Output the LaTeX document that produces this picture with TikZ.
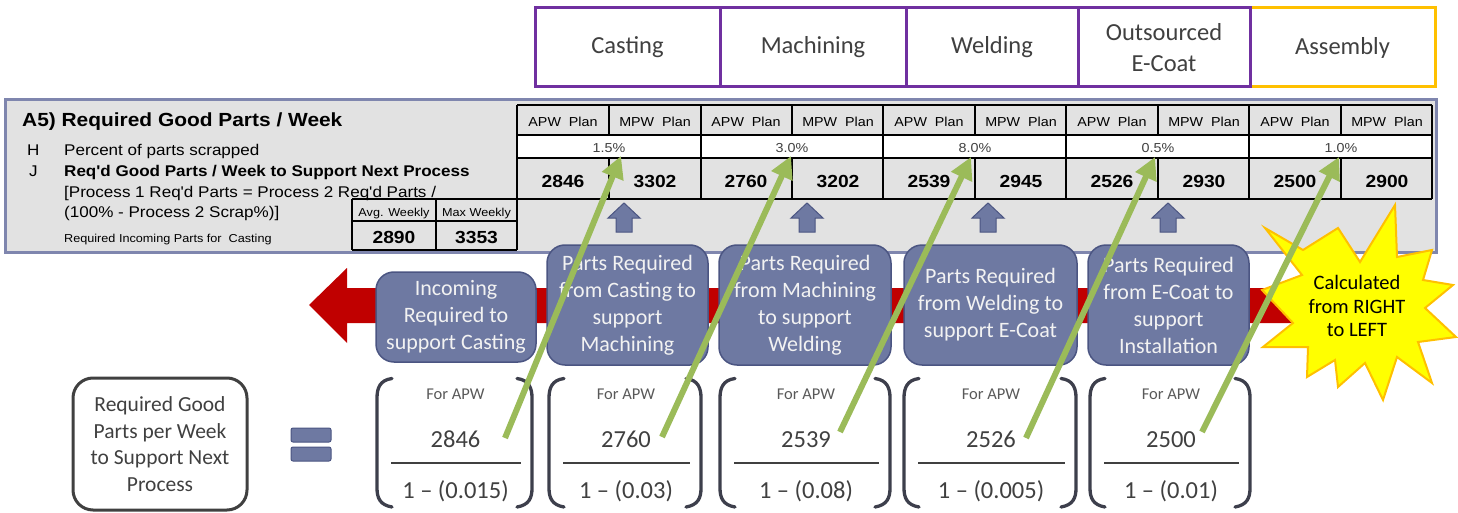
\documentclass[tikz,border=0pt]{standalone}
\usepackage{fontspec}
\setmainfont{Carlito}
\newfontfamily\arialf[FakeStretch=1.1]{Liberation Sans}
\usetikzlibrary{arrows.meta}
\definecolor{purp}{HTML}{7030A0}
\definecolor{gold}{HTML}{FFC000}
\definecolor{tblbg}{HTML}{E2E2E2}
\definecolor{tblborder}{HTML}{7F86AE}
\definecolor{slate}{HTML}{6E79A2}
\definecolor{slateedge}{HTML}{4B5582}
\definecolor{arrowred}{HTML}{C00000}
\definecolor{leaf}{HTML}{9BBB59}
\definecolor{ink}{HTML}{404040}
\definecolor{inkgray}{HTML}{595959}
\definecolor{brk}{HTML}{3D3F4C}
\definecolor{staryellow}{HTML}{FFFF00}
\definecolor{boxtext}{HTML}{F2F2F2}
\begin{document}
\begin{tikzpicture}[x=1pt,y=-1pt,
  hdrbox/.style={minimum height=79, inner sep=0, line width=3, font=\fontsize{24.5}{31}\selectfont, text=ink, align=center, fill=white},
  bbox/.style={rounded corners=18, fill=slate, draw=slateedge, line width=1.5, text=boxtext, align=center, font=\fontsize{22}{27}\selectfont, inner sep=0},
  tcell/.style={font=\arialf\fontsize{13}{15}\selectfont, inner sep=0, anchor=base},
  tnum/.style={font=\arialf\bfseries\fontsize{17.5}{20}\selectfont, inner sep=0, anchor=base},
  tpct/.style={font=\arialf\fontsize{13}{15}\selectfont, text=ink, inner sep=0, anchor=base},
  ltxt/.style={font=\arialf\fontsize{15.5}{18}\selectfont, inner sep=0, anchor=base west},
  gridline/.style={line width=1.3, draw=black},
  brace/.style={draw=brk, line width=3.3, line cap=round},
  fortxt/.style={font=\fontsize{16.5}{18}\selectfont, text=inkgray, inner sep=0, anchor=base},
  fracnum/.style={font=\fontsize{24.5}{28}\selectfont, text=ink, inner sep=0, anchor=base},
  fracbar/.style={fill=ink, minimum height=2.5, inner sep=0},
  garrow/.style={draw=leaf, line width=6, -{Triangle[width=22,length=22]}},
  uparrow/.style={fill=slate, draw=slateedge, line width=1},
  eqbar/.style={fill=slate, draw=slateedge, line width=1, rounded corners=2, minimum width=40, minimum height=14, inner sep=0}
]
\useasboundingbox (0,0) rectangle (1458,513);

% ---------- table ----------
\draw[draw=tblborder, line width=3, fill=tblbg] (5,100) rectangle (1436,252);
\fill[white] (517,135) rectangle (1432,158);
\draw[gridline] (517,105) -- (1432,105);
\draw[gridline] (517,135) -- (1432,135);
\draw[gridline] (517,158) -- (1432,158);
\draw[gridline] (352,199) -- (1432,199);
\draw[gridline] (352,221) -- (517,221);
\draw[gridline] (352,250) -- (517,250);
\draw[gridline] (517,105) -- (517,250);
\draw[gridline] (352,199) -- (352,250);
\draw[gridline] (436,199) -- (436,250);
\foreach \x in {701,883,1066,1249,1432} { \draw[gridline] (\x,105) -- (\x,199); }
\foreach \x in {609,792,975,1158,1341} {
  \draw[gridline] (\x,105) -- (\x,135);
  \draw[gridline] (\x,158) -- (\x,199);
}
\foreach \d/\p/\a/\m [count=\i] in {609/1.5\%/2846/3302, 792/3.0\%/2760/3202, 975/8.0\%/2539/2945, 1158/0.5\%/2526/2930, 1341/1.0\%/2500/2900} {
  \node[tcell] (apw\i) at (\d-46,127) {APW\ \ Plan};
  \node[tcell] (mpw\i) at (\d+46,127) {MPW\ \ Plan};
  \node[tpct] (pct\i) at (\d,153) {\p};
  \node[tnum] (na\i) at (\d-46,187) {\a};
  \node[tnum] (nm\i) at (\d+46,187) {\m};
}
\node[ltxt, font=\arialf\bfseries\fontsize{19}{22}\selectfont] (title) at (22,127) {A5) Required Good Parts / Week};
\node[ltxt] (hlab) at (27,156) {H};
\node[ltxt] (htxt) at (64,156) {Percent of parts scrapped};
\node[ltxt] (jlab) at (29,177) {J};
\node[ltxt, font=\arialf\bfseries\fontsize{15.5}{18}\selectfont] (jtxt) at (64,177) {Req'd Good Parts / Week to Support Next Process};
\node[ltxt] (form1) at (64,197) {[Process 1 Req'd Parts = Process 2 Req'd Parts /};
\node[ltxt] (form2) at (64,218) {(100\% - Process 2 Scrap\%)]};
\node[ltxt, font=\arialf\fontsize{11.5}{13}\selectfont] (rip) at (64,242) {Required Incoming Parts for\ \ Casting};
\node[tcell, font=\arialf\fontsize{11.5}{13}\selectfont] (avgl) at (394,216) {Avg. Weekly};
\node[tcell, font=\arialf\fontsize{11.5}{13}\selectfont] (maxl) at (476.5,216) {Max Weekly};
\node[tnum] (avgv) at (394,243) {2890};
\node[tnum] (maxv) at (476.5,243) {3353};

% ---------- header boxes ----------
\node[hdrbox, draw=gold, minimum width=185] (hasm) at (1342.5,47.5) {Assembly};
\node[hdrbox, draw=purp, minimum width=185] (hcast) at (627.5,47.5) {Casting};
\node[hdrbox, draw=purp, minimum width=186] (hmach) at (813,47.5) {Machining};
\node[hdrbox, draw=purp, minimum width=172] (hweld) at (992,47.5) {Welding};
\node[hdrbox, draw=purp, minimum width=172] (hecoat) at (1164,47.5) {Outsourced\\E-Coat};

% ---------- red arrow ----------
\fill[arrowred] (309,305) -- (347,268) -- (347,288) -- (1300,288) -- (1312,305) -- (1300,323) -- (347,323) -- (347,343) -- cycle;

% ---------- up arrows ----------
\foreach \x in {624,807,988,1168} {
  \filldraw[uparrow] (\x,203) -- (\x+16,218) -- (\x+8,218) -- (\x+8,232) -- (\x-8,232) -- (\x-8,218) -- (\x-16,218) -- cycle;
}

% ---------- blue boxes ----------
\node[bbox, minimum width=160, minimum height=90] (b1) at (456,317) {Incoming\\Required to\\support Casting};
\node[bbox, minimum width=161, minimum height=120] (b2) at (627.5,305) {Parts Required\\from Casting to\\support\\Machining};
\node[bbox, minimum width=172, minimum height=120] (b3) at (805,305) {Parts Required\\from Machining\\to support\\Welding};
\node[bbox, minimum width=173, minimum height=120] (b4) at (990.5,305) {Parts Required\\from Welding to\\support E-Coat};
\node[bbox, minimum width=161, minimum height=120] (b5) at (1168.5,305) {Parts Required\\from E-Coat to\\support\\Installation};

% ---------- fractions ----------
\foreach \L/\R/\n/\d [count=\i] in {377/532/2846/{1 – (0.015)}, 549/701/2760/{1 – (0.03)}, 720/890/2539/{1 – (0.08)}, 904/1076/2526/{1 – (0.005)}, 1090/1250/2500/{1 – (0.01)}} {
  \draw[brace] (\L+15,378.5) .. controls (\L+3,380) and (\L,388) .. (\L,398) -- (\L,488) .. controls (\L,498) and (\L+3,505) .. (\L+15,507);
  \draw[brace] (\R-15,378.5) .. controls (\R-3,380) and (\R,388) .. (\R,398) -- (\R,488) .. controls (\R,498) and (\R-3,505) .. (\R-15,507);
  \node[fortxt] (for\i) at ({(\L+\R)/2+1},399) {For APW};
  \node[fracnum] (num\i) at ({(\L+\R)/2+1},447) {\n};
  \node[fracbar, minimum width={\R-\L-25}] (bar\i) at ({(\L+\R)/2+1},463) {};
  \node[fracnum] (den\i) at ({(\L+\R)/2+1},498) {\d};
}

% ---------- left box and equals ----------
\node[draw=ink, line width=3, rounded corners=20, minimum width=174, minimum height=132, align=center, font=\fontsize{21.5}{26.7}\selectfont, text=ink, inner sep=0] (rgp) at (160,444) {Required Good\\Parts per Week\\to Support Next\\Process};
\node[eqbar] (eqtop) at (311,435) {};
\node[eqbar] (eqbot) at (311,454) {};

% ---------- star ----------
\filldraw[fill=staryellow, draw=gold, line width=2, line join=miter]
  (1265,228) -- (1303,250) -- (1338,228) -- (1360,262) -- (1395,205) -- (1397,257)
  -- (1432,250) -- (1423,280) -- (1453,285) -- (1425,308) -- (1456,337) -- (1418,342)
  -- (1432,383) -- (1397,357) -- (1383,400) -- (1365,363) -- (1338,387) -- (1335,360)
  -- (1307,377) -- (1308,347) -- (1263,347) -- (1293,323) -- (1262,290) -- (1302,275) -- cycle;
\node[align=center, font=\fontsize{20.5}{23.5}\selectfont, text=black, inner sep=0] (calc) at (1357,306) {Calculated\\from RIGHT\\to LEFT};

% ---------- green arrows ----------
\coordinate (g1s) at (505,438);  \coordinate (g1e) at (621,156);
\coordinate (g2s) at (662,437);  \coordinate (g2e) at (791,156);
\coordinate (g3s) at (840,432);  \coordinate (g3e) at (971,157);
\coordinate (g4s) at (1026,438); \coordinate (g4e) at (1155,157);
\coordinate (g5s) at (1202,432); \coordinate (g5e) at (1339,157);
\foreach \i in {1,...,5} { \draw[garrow] (g\i s) -- (g\i e); }
\end{tikzpicture}
\end{document}
